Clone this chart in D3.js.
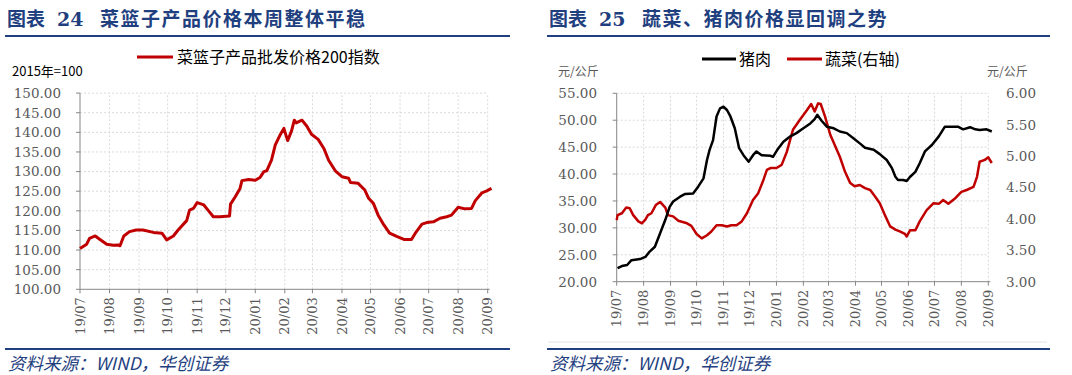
<!DOCTYPE html>
<html>
<head>
<meta charset="utf-8">
<script src="https://cdn.jsdelivr.net/npm/d3@7"></script>
<style>
  body { margin: 0; background: #fff; }
  svg { display: block; }
</style>
</head>
<body>
<svg id="chart" width="1072" height="375"></svg>
<script>
// day offsets from 2019-07-01 and values
var basketDays = [0, 7, 10, 16, 21, 28, 35, 40, 42, 46, 52, 59, 66, 77, 86, 91, 98, 103, 112, 115, 119, 123, 130, 135, 140, 147, 157, 158, 163, 168, 170, 177, 184, 189, 193, 196, 201, 205, 210, 214, 218, 222, 225, 227, 233, 238, 243, 250, 256, 261, 268, 275, 282, 284, 292, 299, 303, 308, 313, 319, 325, 333, 340, 348, 352, 359, 364, 371, 378, 385, 390, 397, 404, 411, 415, 422, 427, 432];
var basketValues = [110.4, 111.5, 113.0, 113.6, 112.7, 111.5, 111.2, 111.3, 111.1, 113.6, 114.7, 115.1, 115.1, 114.5, 114.3, 112.6, 113.6, 115.1, 117.5, 120.2, 120.6, 122.1, 121.5, 120.0, 118.5, 118.5, 118.7, 121.7, 123.6, 125.7, 127.7, 128.0, 127.8, 128.5, 130.0, 130.2, 132.9, 136.8, 139.3, 141.0, 137.9, 140.3, 143.1, 142.4, 143.1, 141.6, 139.5, 138.2, 135.9, 132.9, 130.2, 128.7, 128.3, 127.2, 127.0, 125.3, 123.2, 121.9, 118.9, 116.4, 114.3, 113.4, 112.7, 112.7, 114.3, 116.6, 117.0, 117.2, 118.1, 118.5, 118.9, 120.9, 120.5, 120.6, 122.6, 124.6, 125.1, 125.7];

var porkDays = [1, 6, 12, 17, 27, 33, 38, 44, 50, 56, 61, 65, 73, 79, 88, 94, 100, 104, 107, 111, 115, 119, 123, 127, 131, 136, 141, 146, 152, 157, 161, 167, 177, 180, 185, 192, 200, 207, 215, 223, 228, 231, 236, 242, 250, 257, 265, 273, 280, 286, 296, 303, 311, 317, 321, 324, 330, 334, 338, 344, 349, 355, 363, 371, 378, 386, 393, 399, 407, 413, 418, 426, 432];
var porkValues = [22.5, 22.9, 23.1, 24.0, 24.2, 24.6, 25.6, 26.5, 29.0, 31.5, 33.9, 34.9, 35.8, 36.3, 36.4, 37.7, 39.2, 42.6, 44.5, 46.3, 50.7, 52.2, 52.5, 51.9, 50.7, 48.5, 44.8, 43.5, 42.3, 43.5, 44.2, 43.5, 43.4, 43.2, 44.5, 46.0, 47.0, 47.6, 48.5, 49.4, 50.2, 51.0, 49.9, 48.8, 48.5, 47.9, 47.6, 46.6, 45.7, 44.9, 44.5, 43.7, 42.6, 41.1, 39.5, 38.9, 38.9, 38.7, 39.5, 40.4, 42.0, 44.2, 45.4, 47.0, 48.8, 48.8, 48.8, 48.3, 48.7, 48.3, 48.2, 48.3, 47.9];

var vegDays = [0, 1, 6, 11, 15, 19, 25, 29, 33, 36, 40, 45, 50, 56, 59, 65, 71, 81, 86, 92, 98, 104, 109, 115, 121, 127, 132, 138, 144, 150, 157, 163, 169, 173, 177, 184, 190, 196, 203, 211, 219, 224, 228, 232, 235, 240, 246, 251, 257, 263, 269, 274, 280, 286, 292, 298, 303, 309, 315, 321, 326, 332, 334, 338, 344, 349, 357, 365, 371, 376, 382, 390, 397, 403, 411, 415, 418, 424, 428, 432];
var vegValues = [3.98, 4.06, 4.09, 4.18, 4.17, 4.06, 3.96, 3.93, 3.99, 4.06, 4.09, 4.22, 4.27, 4.18, 4.06, 4.04, 3.97, 3.93, 3.89, 3.76, 3.69, 3.74, 3.80, 3.90, 3.90, 3.88, 3.90, 3.90, 3.96, 4.09, 4.30, 4.41, 4.62, 4.78, 4.81, 4.81, 4.86, 5.07, 5.42, 5.58, 5.73, 5.83, 5.71, 5.84, 5.83, 5.63, 5.34, 5.18, 4.99, 4.75, 4.57, 4.52, 4.54, 4.49, 4.46, 4.35, 4.25, 4.06, 3.88, 3.83, 3.80, 3.76, 3.72, 3.82, 3.82, 3.96, 4.14, 4.25, 4.24, 4.30, 4.24, 4.33, 4.43, 4.46, 4.51, 4.67, 4.91, 4.94, 4.98, 4.89];

var leftTicks = [100, 105, 110, 115, 120, 125, 130, 135, 140, 145, 150];
var porkTicks = [20, 25, 30, 35, 40, 45, 50, 55];
var vegTicks = [3.0, 3.5, 4.0, 4.5, 5.0, 5.5, 6.0];

var startDate = new Date(2019, 6, 1);
var endDate = new Date(2020, 8, 1);
var months = d3.timeMonth.range(startDate, d3.timeDay.offset(endDate, 1));
var monthFmt = d3.timeFormat("%y/%m");
var valFmt = d3.format(".2f");

var navy = "#1f3f7f";
var red = "#c00000";
var gridColor = "#d9d9d9";
var axisColor = "#868686";
var labelColor = "#595959";
var serif = "'DejaVu Serif', serif";
var sans = "'Noto Sans CJK SC', 'Noto Sans', sans-serif";

var svg = d3.select("#chart");

function toPoints(days, values) {
  return days.map(function(d, i) { return { date: d3.timeDay.offset(startDate, d), v: values[i] }; });
}

// frame: title, rules and source line for one panel
function drawFrame(x0, x1, num, title) {
  svg.append("text").attr("x", x0 + 2).attr("y", 26)
    .style("font-family", sans).style("font-weight", "bold").style("font-size", "19px")
    .attr("fill", navy).text("图表");
  svg.append("text").attr("x", x0 + 52).attr("y", 26)
    .style("font-family", "'DejaVu Serif', serif").style("font-weight", "bold").style("font-size", "19px")
    .attr("fill", navy).text(num);
  svg.append("text").attr("x", x0 + 95).attr("y", 26)
    .style("font-family", sans).style("font-weight", "bold").style("font-size", "19px")
    .style("letter-spacing", "1.5px")
    .attr("fill", navy).text(title);
  svg.append("line").attr("x1", x0).attr("x2", x1).attr("y1", 36).attr("y2", 36)
    .attr("stroke", navy).attr("stroke-width", 2);
  svg.append("line").attr("x1", x0).attr("x2", x1).attr("y1", 349).attr("y2", 349)
    .attr("stroke", navy).attr("stroke-width", 2);
  svg.append("text").attr("x", x0 + 3).attr("y", 370)
    .style("font-family", sans).style("font-style", "italic").style("font-size", "17.5px")
    .attr("fill", navy).text("资料来源：WIND，华创证券");
}

function drawGridAndAxes(x, y, ticks, labelX) {
  var x0 = x.range()[0], x1 = x.range()[1];
  var y0 = y.range()[0], y1 = y.range()[1];
  var g = svg.append("g");
  g.selectAll(".hgrid").data(ticks.slice(1)).enter().append("line")
    .attr("x1", x0).attr("x2", x1)
    .attr("y1", function(d) { return y(d); }).attr("y2", function(d) { return y(d); })
    .attr("stroke", gridColor).attr("stroke-dasharray", "2,2");
  g.selectAll(".vgrid").data(months.slice(1)).enter().append("line")
    .attr("x1", function(d) { return x(d); }).attr("x2", function(d) { return x(d); })
    .attr("y1", y0).attr("y2", y1)
    .attr("stroke", gridColor).attr("stroke-dasharray", "2,2");

  // left axis
  g.append("line").attr("x1", x0).attr("x2", x0).attr("y1", y0).attr("y2", y1)
    .attr("stroke", axisColor);
  g.selectAll(".yt").data(ticks).enter().append("line")
    .attr("x1", x0 - 4).attr("x2", x0)
    .attr("y1", function(d) { return y(d); }).attr("y2", function(d) { return y(d); })
    .attr("stroke", axisColor);
  g.selectAll(".yl").data(ticks).enter().append("text")
    .attr("x", labelX).attr("y", function(d) { return y(d); }).attr("dy", "0.36em")
    .attr("text-anchor", "end")
    .style("font-family", serif).style("font-size", "13.5px").attr("fill", labelColor)
    .text(valFmt);

  // bottom axis
  g.append("line").attr("x1", x0).attr("x2", x1 + 2).attr("y1", y0).attr("y2", y0)
    .attr("stroke", axisColor);
  g.selectAll(".xt").data(months).enter().append("line")
    .attr("x1", function(d) { return x(d); }).attr("x2", function(d) { return x(d); })
    .attr("y1", y0).attr("y2", y0 + 4)
    .attr("stroke", axisColor);
  g.selectAll(".xl").data(months).enter().append("text")
    .attr("transform", function(d) { return "translate(" + x(d) + "," + (y0 + 8) + ") rotate(-90)"; })
    .attr("dy", "0.36em")
    .attr("text-anchor", "end")
    .style("font-family", serif).style("font-size", "13px").attr("fill", labelColor)
    .text(monthFmt);
}

// ---------- left panel ----------
drawFrame(5, 510, "24", "菜篮子产品价格本周整体平稳");

var xL = d3.scaleTime().domain([startDate, endDate]).range([80, 487.7]);
var yL = d3.scaleLinear().domain([100, 150]).range([289.3, 93.1]);
drawGridAndAxes(xL, yL, leftTicks, 61);

svg.append("text").attr("x", 12).attr("y", 76)
  .style("font-family", sans).style("font-size", "13px").attr("fill", "#000")
  .text("2015年=100");

svg.append("line").attr("x1", 137).attr("x2", 173).attr("y1", 57).attr("y2", 57)
  .attr("stroke", red).attr("stroke-width", 3);
svg.append("text").attr("x", 177).attr("y", 63)
  .style("font-family", sans).style("font-size", "16px").attr("fill", "#000")
  .text("菜篮子产品批发价格200指数");

var lineL = d3.line()
  .x(function(d) { return xL(d.date); })
  .y(function(d) { return yL(d.v); });
svg.append("path").datum(toPoints(basketDays, basketValues))
  .attr("d", lineL).attr("fill", "none").attr("stroke", red)
  .attr("stroke-width", 3).attr("stroke-linejoin", "round");

// ---------- right panel ----------
drawFrame(547, 1050, "25", "蔬菜、猪肉价格显回调之势");

svg.append("line").attr("x1", 548).attr("x2", 1047).attr("y1", 342).attr("y2", 342)
  .attr("stroke", "#e3e3e3");

var xR = d3.scaleTime().domain([startDate, endDate]).range([616.7, 988.3]);
var yR = d3.scaleLinear().domain([20, 55]).range([281.7, 93.3]);
var yR2 = d3.scaleLinear().domain([3, 6]).range([281.7, 93.3]);
drawGridAndAxes(xR, yR, porkTicks, 597);

svg.append("g").selectAll("text").data(vegTicks).enter().append("text")
  .attr("x", 1036).attr("y", function(d) { return yR2(d); }).attr("dy", "0.36em")
  .attr("text-anchor", "end")
  .style("font-family", serif).style("font-size", "13.5px").attr("fill", labelColor)
  .text(valFmt);

svg.append("text").attr("x", 558).attr("y", 76)
  .style("font-family", sans).style("font-size", "12px").attr("fill", labelColor)
  .text("元/公斤");
svg.append("text").attr("x", 987).attr("y", 76)
  .style("font-family", sans).style("font-size", "12px").attr("fill", labelColor)
  .text("元/公斤");

svg.append("line").attr("x1", 702).attr("x2", 736).attr("y1", 59).attr("y2", 59)
  .attr("stroke", "#000").attr("stroke-width", 3);
svg.append("text").attr("x", 739).attr("y", 65)
  .style("font-family", sans).style("font-size", "16px").attr("fill", "#000")
  .text("猪肉");
svg.append("line").attr("x1", 787).attr("x2", 822).attr("y1", 59).attr("y2", 59)
  .attr("stroke", red).attr("stroke-width", 3);
svg.append("text").attr("x", 825).attr("y", 65)
  .style("font-family", sans).style("font-size", "16px").attr("fill", "#000")
  .text("蔬菜(右轴)");

svg.append("path").datum(toPoints(vegDays, vegValues))
  .attr("d", d3.line().x(function(d) { return xR(d.date); }).y(function(d) { return yR2(d.v); }))
  .attr("fill", "none").attr("stroke", red)
  .attr("stroke-width", 2.5).attr("stroke-linejoin", "round");

svg.append("path").datum(toPoints(porkDays, porkValues))
  .attr("d", d3.line().x(function(d) { return xR(d.date); }).y(function(d) { return yR(d.v); }))
  .attr("fill", "none").attr("stroke", "#000")
  .attr("stroke-width", 2.5).attr("stroke-linejoin", "round");
</script>
</body>
</html>
